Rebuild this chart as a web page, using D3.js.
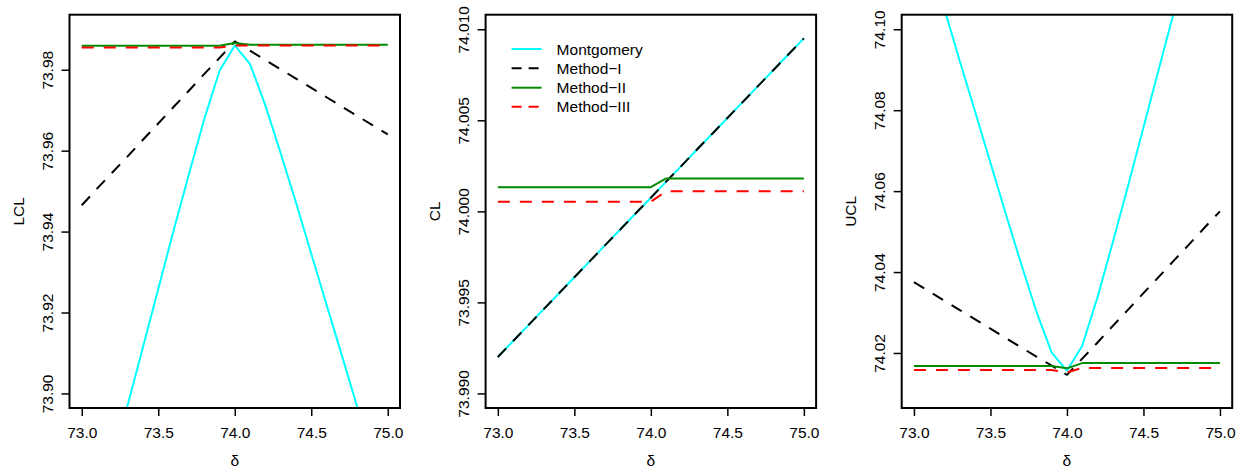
<!DOCTYPE html>
<html>
<head>
<meta charset="utf-8">
<script src="https://cdn.jsdelivr.net/npm/d3@7"></script>
<style>
  html, body { margin: 0; padding: 0; background: #fff; }
  svg { display: block; font-family: "Liberation Sans", Arial, Helvetica, sans-serif; }
</style>
</head>
<body>
<svg id="chart" width="1244" height="470"></svg>
<script>
// Shift values (x axis) shared by every panel
const delta = [73.0, 73.1, 73.2, 73.3, 73.4, 73.5, 73.6, 73.7, 73.8, 73.9, 74.0,
               74.1, 74.2, 74.3, 74.4, 74.5, 74.6, 74.7, 74.8, 74.9, 75.0];

// Lower control limits
const lclMontgomery = [73.8532, 73.8678, 73.8827, 73.8971, 73.9114, 73.9258, 73.9402, 73.9541, 73.9677, 73.9797, 73.9860,
                       73.9814, 73.9712, 73.9594, 73.9472, 73.9345, 73.9219, 73.9094, 73.8967, 73.8835, 73.8707];
const lclMethodI    = [73.9465, 73.9506, 73.9546, 73.9586, 73.9627, 73.9667, 73.9708, 73.9748, 73.9789, 73.9829, 73.9870,
                       73.9847, 73.9824, 73.9801, 73.9778, 73.9755, 73.9732, 73.9709, 73.9686, 73.9663, 73.9640];
const lclMethodII   = [73.9859, 73.9859, 73.9859, 73.9859, 73.9859, 73.9859, 73.9859, 73.9859, 73.9859, 73.9859, 73.9866,
                       73.9862, 73.9862, 73.9862, 73.9862, 73.9862, 73.9862, 73.9862, 73.9862, 73.9862, 73.9862];
const lclMethodIII  = [73.9855, 73.9855, 73.9855, 73.9855, 73.9855, 73.9855, 73.9855, 73.9855, 73.9855, 73.9855, 73.9860,
                       73.9860, 73.9860, 73.9860, 73.9860, 73.9860, 73.9860, 73.9860, 73.9860, 73.9860, 73.9860];

// Center lines
const clMontgomery = [73.99200, 73.99288, 73.99375, 73.99463, 73.99550, 73.99638, 73.99725, 73.99813, 73.99900, 73.99988, 74.00075,
                      74.00163, 74.00250, 74.00338, 74.00425, 74.00513, 74.00600, 74.00688, 74.00775, 74.00863, 74.00950];
const clMethodI    = [73.99200, 73.99288, 73.99375, 73.99463, 73.99550, 73.99638, 73.99725, 73.99813, 73.99900, 73.99988, 74.00075,
                      74.00163, 74.00250, 74.00338, 74.00425, 74.00513, 74.00600, 74.00688, 74.00775, 74.00863, 74.00950];
const clMethodII   = [74.00133, 74.00133, 74.00133, 74.00133, 74.00133, 74.00133, 74.00133, 74.00133, 74.00133, 74.00133, 74.00133,
                      74.00181, 74.00181, 74.00181, 74.00181, 74.00181, 74.00181, 74.00181, 74.00181, 74.00181, 74.00181];
const clMethodIII  = [74.00053, 74.00053, 74.00053, 74.00053, 74.00053, 74.00053, 74.00053, 74.00053, 74.00053, 74.00053, 74.00053,
                      74.00110, 74.00110, 74.00110, 74.00110, 74.00110, 74.00110, 74.00110, 74.00110, 74.00110, 74.00110];

// Upper control limits
const uclMontgomery = [74.1308, 74.1180, 74.1049, 74.0921, 74.0796, 74.0670, 74.0544, 74.0421, 74.0303, 74.0201, 74.0156,
                       74.0218, 74.0338, 74.0474, 74.0614, 74.0757, 74.0901, 74.1044, 74.1189, 74.1337, 74.1483];
const uclMethodI    = [74.0375, 74.0352, 74.0329, 74.0306, 74.0283, 74.0260, 74.0237, 74.0214, 74.0191, 74.0169, 74.0146,
                       74.0186, 74.0226, 74.0267, 74.0307, 74.0348, 74.0388, 74.0429, 74.0469, 74.0510, 74.0550];
const uclMethodII   = [74.0168, 74.0168, 74.0168, 74.0168, 74.0168, 74.0168, 74.0168, 74.0168, 74.0168, 74.0168, 74.0162,
                       74.0175, 74.0175, 74.0175, 74.0175, 74.0175, 74.0175, 74.0175, 74.0175, 74.0175, 74.0175];
const uclMethodIII  = [74.0158, 74.0158, 74.0158, 74.0158, 74.0158, 74.0158, 74.0158, 74.0158, 74.0158, 74.0158, 74.0152,
                       74.0163, 74.0163, 74.0163, 74.0163, 74.0163, 74.0163, 74.0163, 74.0163, 74.0163, 74.0163];

// Axis ticks
const xTicks = [73.0, 73.5, 74.0, 74.5, 75.0];
const lclTicks = [73.90, 73.92, 73.94, 73.96, 73.98];
const clTicks = [73.990, 73.995, 74.000, 74.005, 74.010];
const uclTicks = [74.02, 74.04, 74.06, 74.08, 74.10];

// Axis limits
const xLimits = [73, 75];
const lclLimits = [73.90, 73.99];
const clLimits = [73.99, 74.01];
const uclLimits = [74.01, 74.10];

const methodNames = ["Montgomery", "Method\u2212I", "Method\u2212II", "Method\u2212III"];
const methodStyles = [
  { color: "#00FFFF", dash: null },
  { color: "#000000", dash: "12,10" },
  { color: "#008B00", dash: null },
  { color: "#FF0000", dash: "12,10" }
];

const panels = [
  { title: "LCL", limits: lclLimits, ticks: lclTicks, fmt: d3.format(".2f"),
    series: [lclMontgomery, lclMethodI, lclMethodII, lclMethodIII], legend: false },
  { title: "CL", limits: clLimits, ticks: clTicks, fmt: d3.format(".3f"),
    series: [clMontgomery, clMethodI, clMethodII, clMethodIII], legend: true },
  { title: "UCL", limits: uclLimits, ticks: uclTicks, fmt: d3.format(".2f"),
    series: [uclMontgomery, uclMethodI, uclMethodII, uclMethodIII], legend: false }
];

const svg = d3.select("#chart");
svg.append("rect").attr("width", 1244).attr("height", 470).attr("fill", "#fff");

const FONT = 15.5;
const plotW = 330.5, plotTop = 14.7, plotBottom = 408;
const pitch = 416.1, firstLeft = 69.5;

// pad a range by 4% on each side
function padded(lim) {
  const r = lim[1] - lim[0];
  return [lim[0] - 0.04 * r, lim[1] + 0.04 * r];
}

panels.forEach((p, i) => {
  const left = firstLeft + i * pitch;
  const g = svg.append("g").attr("transform", `translate(${left},0)`);

  const x = d3.scaleLinear().domain(padded(xLimits)).range([0, plotW]);
  const y = d3.scaleLinear().domain(padded(p.limits)).range([plotBottom, plotTop]);

  const clipId = "clip" + i;
  g.append("clipPath").attr("id", clipId)
    .append("rect").attr("x", 0).attr("y", plotTop).attr("width", plotW).attr("height", plotBottom - plotTop);

  const line = d3.line().x((d, k) => x(delta[k])).y(d => y(d));

  const lines = g.append("g").attr("clip-path", `url(#${clipId})`);
  p.series.forEach((s, k) => {
    lines.append("path")
      .datum(s)
      .attr("d", line)
      .attr("fill", "none")
      .attr("stroke", methodStyles[k].color)
      .attr("stroke-width", 2)
      .attr("stroke-linejoin", "round")
      .attr("stroke-dasharray", methodStyles[k].dash);
  });

  // x axis
  const xAxis = g.append("g").attr("transform", `translate(0,${plotBottom})`)
    .call(d3.axisBottom(x).tickValues(xTicks).tickSize(8).tickFormat(d3.format(".1f")));
  xAxis.select(".domain").remove();
  xAxis.selectAll(".tick line").attr("stroke", "#000").attr("stroke-width", 1.5);
  xAxis.selectAll(".tick text")
    .attr("y", 30).attr("dy", 0)
    .attr("font-size", FONT).attr("font-family", "Liberation Sans, Arial, sans-serif")
    .attr("fill", "#000");

  // y axis with labels drawn parallel to the axis
  const yAxis = g.append("g")
    .call(d3.axisLeft(y).tickValues(p.ticks).tickSize(8).tickFormat(p.fmt));
  yAxis.select(".domain").remove();
  yAxis.selectAll(".tick line").attr("stroke", "#000").attr("stroke-width", 1.5);
  yAxis.selectAll(".tick text")
    .attr("x", 0).attr("y", -17).attr("dy", 0)
    .attr("transform", "rotate(-90)")
    .attr("text-anchor", "middle")
    .attr("font-size", FONT).attr("font-family", "Liberation Sans, Arial, sans-serif")
    .attr("fill", "#000");

  // plot frame
  g.append("rect")
    .attr("x", 0).attr("y", plotTop)
    .attr("width", plotW).attr("height", plotBottom - plotTop)
    .attr("fill", "none").attr("stroke", "#000").attr("stroke-width", 2);

  // axis titles
  g.append("text")
    .attr("transform", `translate(-46,${(plotTop + plotBottom) / 2}) rotate(-90)`)
    .attr("text-anchor", "middle")
    .attr("font-size", FONT)
    .text(p.title);

  g.append("text")
    .attr("x", x(74)).attr("y", 466)
    .attr("text-anchor", "middle")
    .attr("font-size", FONT)
    .text("\u03B4");

  if (p.legend) {
    const lg = g.append("g");
    const rowY = [49, 68.3, 87.7, 106.7];
    methodNames.forEach((name, k) => {
      lg.append("line")
        .attr("x1", 26).attr("x2", 56)
        .attr("y1", rowY[k]).attr("y2", rowY[k])
        .attr("stroke", methodStyles[k].color)
        .attr("stroke-width", 2)
        .attr("stroke-dasharray", methodStyles[k].dash ? "10,7" : null);
      lg.append("text")
        .attr("x", 71).attr("y", rowY[k])
        .attr("dy", "0.36em")
        .attr("font-size", FONT)
        .text(name);
    });
  }
});
</script>
</body>
</html>
